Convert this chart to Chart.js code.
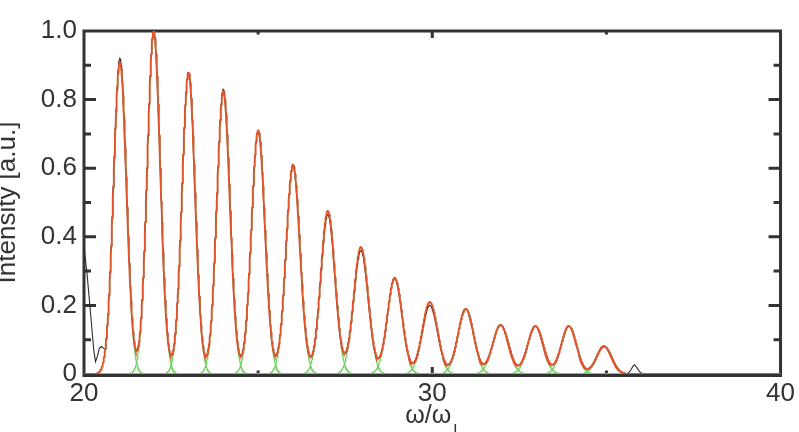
<!DOCTYPE html>
<html><head><meta charset="utf-8">
<script src="https://cdn.jsdelivr.net/npm/chart.js@4.4.1/dist/chart.umd.min.js"></script>
<style>html,body{margin:0;padding:0;background:#fff}canvas{display:block}</style>
</head><body>
<canvas id="c" width="799" height="432"></canvas>
<script>
// ---- data ----
const peakCenters = [21.03, 22.0, 23.0, 24.0, 25.0, 26.0, 27.0, 27.95, 28.92, 29.93, 30.96, 31.96, 32.96, 33.92, 34.93];
const fitHeights  = [0.91, 1.0, 0.88, 0.825, 0.71, 0.61, 0.475, 0.37, 0.28, 0.21, 0.19, 0.143, 0.14, 0.14, 0.08];
const peakWidths  = [0.187, 0.188, 0.188, 0.19, 0.195, 0.2, 0.205, 0.21, 0.213, 0.22, 0.225, 0.23, 0.225, 0.22, 0.22];
const dataHeights = [0.92, 1.0, 0.88, 0.83, 0.71, 0.61, 0.465, 0.36, 0.28, 0.2, 0.19, 0.143, 0.14, 0.14, 0.082];
const dataLeftEdge = [[20.0,0.37],[20.08,0.30],[20.15,0.22],[20.22,0.14],[20.28,0.07],[20.33,0.036],[20.38,0.05],[20.44,0.075],[20.5,0.08],[20.56,0.075]];
const dataRightBump = [[35.6,0.0],[35.68,0.008],[35.76,0.022],[35.81,0.027],[35.88,0.018],[35.96,0.006],[36.05,0.0]];
const xTickLabels = [20, 30, 40];
const yTickLabels = [0, 0.2, 0.4, 0.6, 0.8, 1.0];

// ---- build curves from the fitted Gaussian parameters ----
const grid = [];
for (let i = 0; i <= 2000; i++) grid.push(20 + i * 0.01);
function gauss(x, c, h, s) { return h * Math.exp(-(x - c) * (x - c) / (2 * s * s)); }
function sumModel(x, heights) {
  let v = 0;
  for (let k = 0; k < peakCenters.length; k++) v += gauss(x, peakCenters[k], heights[k], peakWidths[k]);
  return v;
}
const fitCurve = grid.map(x => ({x, y: sumModel(x, fitHeights)}));
const compCurves = peakCenters.map((c, k) => grid.map(x => ({x, y: gauss(x, c, fitHeights[k], peakWidths[k])})));
const dataCurve = [];
dataLeftEdge.forEach(p => dataCurve.push({x: p[0], y: p[1]}));
grid.forEach(x => { if (x > 20.6 && x < 35.6) dataCurve.push({x, y: sumModel(x, dataHeights)}); });
dataRightBump.forEach(p => dataCurve.push({x: p[0], y: p[1]}));
grid.forEach(x => { if (x > 36.06) dataCurve.push({x, y: sumModel(x, dataHeights)}); });

const AX = '#333333';
const FAM = '"Liberation Sans", Arial, Helvetica, sans-serif';
const datasets = [
  {data: fitCurve, borderColor: '#e2542c', borderWidth: 1.8},
  {data: dataCurve, borderColor: '#2b2b2b', borderWidth: 1.1}
];
compCurves.forEach(d => datasets.push({data: d, borderColor: '#6fcf5f', borderWidth: 1.2}));
datasets.forEach(d => { d.pointRadius = 0; d.tension = 0; d.fill = false; });

const framePlugin = {
  id: 'frame',
  beforeDatasetsDraw(chart) {
    const {ctx, chartArea: a, scales: {x, y}} = chart;
    ctx.save();
    ctx.strokeStyle = AX; ctx.lineWidth = 3; ctx.lineCap = 'square';
    ctx.beginPath();
    ctx.moveTo(a.left, a.top); ctx.lineTo(a.right, a.top);
    ctx.lineTo(a.right, a.bottom + 1.5); ctx.lineTo(a.left, a.bottom + 1.5); ctx.closePath();
    ctx.stroke();
    ctx.lineCap = 'butt';
    for (let i = 1; i < 10; i++) {
      const v = i / 10, py = y.getPixelForValue(v);
      const len = (i % 2 === 0) ? 12 : 7;
      ctx.beginPath();
      ctx.moveTo(a.left, py); ctx.lineTo(a.left + len, py);
      ctx.moveTo(a.right, py); ctx.lineTo(a.right - len, py);
      ctx.stroke();
    }
    [25, 30, 35].forEach(v => {
      const px = x.getPixelForValue(v);
      const len = v === 30 ? 7 : 3.5;
      ctx.beginPath();
      ctx.moveTo(px, a.top); ctx.lineTo(px, a.top + len);
      ctx.moveTo(px, a.bottom); ctx.lineTo(px, a.bottom - len);
      ctx.stroke();
    });
    ctx.restore();
  },
  afterDraw(chart) {
    const {ctx, chartArea: a} = chart;
    ctx.save();
    ctx.fillStyle = AX;
    ctx.font = '26px ' + FAM;
    ctx.translate(15, (a.top + a.bottom) / 2);
    ctx.rotate(-Math.PI / 2);
    ctx.textAlign = 'center'; ctx.textBaseline = 'alphabetic';
    ctx.fillText('Intensity [a.u.]', 0, 0);
    ctx.restore();
    ctx.save();
    ctx.fillStyle = AX;
    ctx.font = '25px ' + FAM;
    const main = 'ω/ω';
    const w = ctx.measureText(main).width;
    const cx = (a.left + a.right) / 2 - 4;
    ctx.textAlign = 'left'; ctx.textBaseline = 'alphabetic';
    ctx.fillText(main, cx - w / 2, 423);
    ctx.font = '16px ' + FAM;
    ctx.fillText('L', cx + w / 2 + 2, 436);
    ctx.restore();
  }
};

new Chart(document.getElementById('c'), {
  type: 'line',
  data: {datasets},
  plugins: [framePlugin],
  options: {
    responsive: false, animation: false, devicePixelRatio: 1,
    parsing: false, normalized: true,
    layout: {padding: {left: 0, top: 31, right: 16, bottom: 0}},
    plugins: {legend: {display: false}, tooltip: {enabled: false}},
    scales: {
      x: {
        type: 'linear', min: 20, max: 40,
        afterFit(s) { s.height = 58; },
        afterBuildTicks(s) { s.ticks = xTickLabels.map(v => ({value: v})); },
        ticks: {color: AX, font: {size: 26, family: FAM}, padding: 4, maxRotation: 0, autoSkip: false,
                callback: v => String(v)},
        grid: {display: false, drawTicks: false}, border: {display: false}
      },
      y: {
        type: 'linear', min: 0, max: 1,
        afterFit(s) { s.width = 84; },
        afterBuildTicks(s) { s.ticks = yTickLabels.map(v => ({value: v})); },
        ticks: {color: AX, font: {size: 26, family: FAM}, padding: 7,
                callback: v => v === 0 ? '0' : Number(v).toFixed(1)},
        grid: {display: false, drawTicks: false}, border: {display: false}
      }
    }
  }
});
</script>
</body></html>
